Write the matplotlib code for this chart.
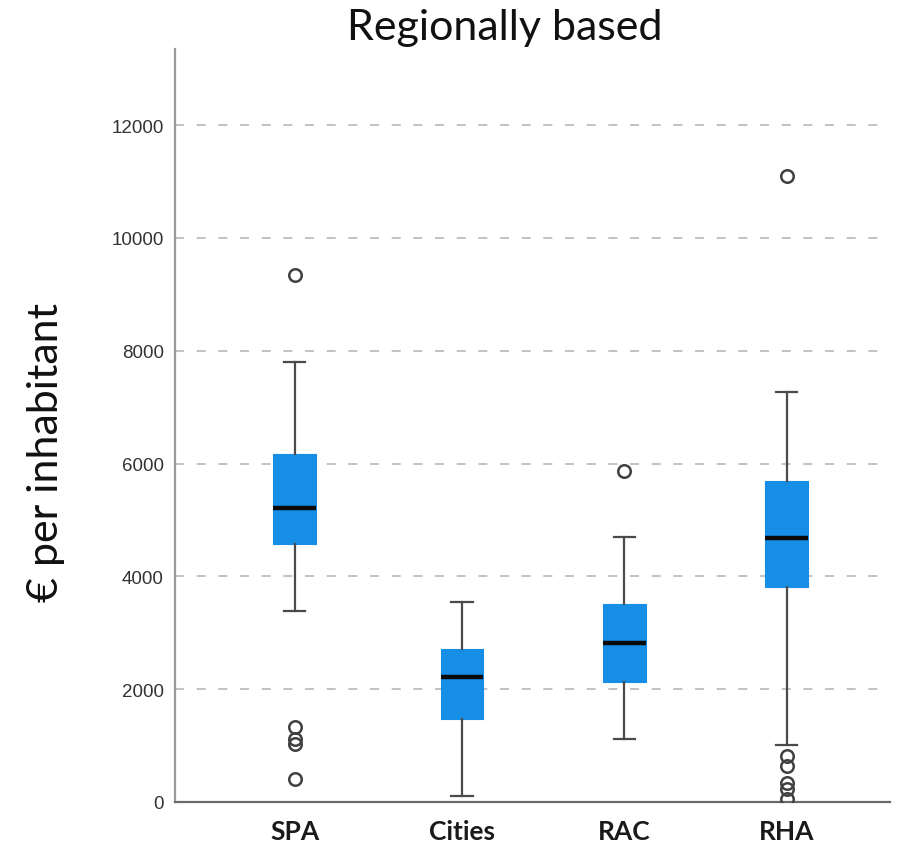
import matplotlib
matplotlib.use("Agg")
import matplotlib.pyplot as plt

categories = ["SPA", "Cities", "RAC", "RHA"]
q1 = [4574, 1472, 2128, 3812]
medians = [5213, 2216, 2819, 4681]
q3 = [6170, 2713, 3511, 5683]
whisker_low = [3390, 106, 1117, 1010]
whisker_high = [7800, 3550, 4699, 7270]
outliers = [
    [9344, 1330, 1117, 1028, 408],
    [],
    [5869],
    [11099, 820, 640, 330, 230, 60],
]
yticks = [0, 2000, 4000, 6000, 8000, 10000, 12000]

fig = plt.figure(figsize=(9.04, 8.53), dpi=100)
ax = fig.add_axes([175/904, 50/853, 715/904, 753/853])

stats = []
for i, c in enumerate(categories):
    stats.append(dict(label=c, q1=q1[i], med=medians[i], q3=q3[i],
                      whislo=whisker_low[i], whishi=whisker_high[i],
                      fliers=outliers[i]))

positions = [1, 2.02, 3.01, 4.0]
box_color = "#168ee6"
ax.bxp(stats, positions=positions, widths=0.26, patch_artist=True,
       showfliers=True,
       boxprops=dict(facecolor=box_color, edgecolor=box_color, linewidth=0.8),
       medianprops=dict(color="#0a0a0a", linewidth=3.2, solid_capstyle="butt"),
       whiskerprops=dict(color="#4a4a4a", linewidth=1.6),
       capprops=dict(color="#4a4a4a", linewidth=1.6),
       capwidths=0.13,
       flierprops=dict(marker="o", markerfacecolor="none", markeredgecolor="#404040",
                       markeredgewidth=1.8, markersize=9, linestyle="none"),
       zorder=3)

ax.set_xlim(0.27, 4.63)
ax.set_ylim(0, 13350)
ax.set_yticks(yticks)
ax.set_yticklabels([str(v) for v in yticks], fontsize=13.5, color="#333333",
                   family="Liberation Sans")
ax.set_xticks(positions)
ax.set_xticklabels(categories, fontsize=19, fontweight="bold", color="#1a1a1a",
                   family="Lato")
ax.tick_params(axis="y", length=0, pad=8)
ax.tick_params(axis="x", length=0, pad=12)

ax.yaxis.grid(True, linestyle=(0, (5, 7)), color="#bdbdbd", linewidth=1.3)
ax.set_axisbelow(True)
for s in ["top", "right"]:
    ax.spines[s].set_visible(False)
ax.spines["left"].set_color("#9a9a9a")
ax.spines["left"].set_linewidth(1.6)
ax.spines["bottom"].set_color("#6a6a6a")
ax.spines["bottom"].set_linewidth(1.6)

fig.text(505/904, 1 - 28/853, "Regionally based", ha="center", va="center",
         fontsize=31, color="#111111", family="Lato")
fig.text(46/904, 1 - 452/853, "€ per inhabitant", ha="center", va="center",
         rotation=90, fontsize=31, color="#111111", family="Lato")

fig.savefig("out.png", dpi=100, facecolor="white")
